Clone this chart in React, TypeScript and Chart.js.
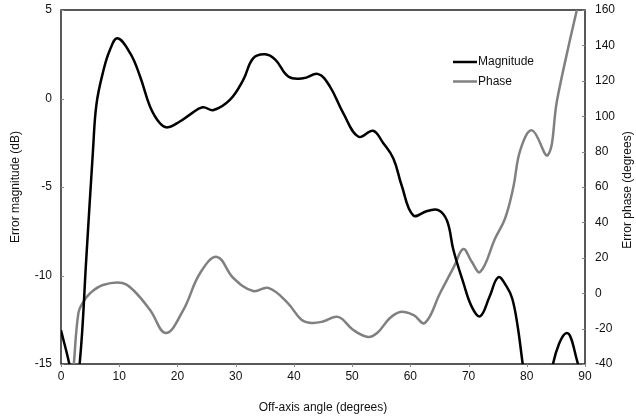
import React, { useEffect, useRef } from "react";
import { Chart, registerables } from "chart.js";

Chart.register(...registerables);

// Off-axis angle (degrees) for the magnitude trace
const magAngles = [0, 1.43, 2.2, 3.2, 4.35, 5.5, 6.1, 7.3, 8.4, 9.7, 11.9, 13.6, 15.3, 17.0, 18.3, 20.4, 22.2, 24.3, 26.2, 29.0, 31.3, 33.0, 35.05, 36.8, 39.1, 41.6, 44.2, 46.2, 48.5, 51.1, 53.6, 55.3, 57.1, 58.5, 60.5, 62.9, 64.8, 66.3, 67.4, 69.1, 70.6, 72.0, 73.6, 75.1, 76.5, 77.5, 78.4, 79.3, 81.0, 83.0, 84.5, 86.9, 88.8, 90];
// Error magnitude (dB)
const magnitude = [-13.1, -15, -16.5, -15, -9.0, -2.9, -0.3, 1.6, 2.74, 3.4, 2.55, 1.23, -0.46, -1.4, -1.63, -1.3, -0.9, -0.5, -0.65, -0.08, 1.05, 2.27, 2.5, 2.2, 1.23, 1.14, 1.38, 0.67, -0.84, -2.16, -1.82, -2.5, -3.4, -4.9, -6.6, -6.36, -6.3, -6.9, -8.56, -10.4, -11.8, -12.3, -11.2, -10.1, -10.6, -11.3, -12.8, -15, -19, -19, -15, -13.25, -15, -16.5];

// Off-axis angle (degrees) for the phase trace
const phaseAngles = [1.8, 2.2, 3.0, 3.8, 5.0, 7.2, 10.5, 12.4, 15.3, 18.0, 21.0, 23.9, 26.8, 29.6, 33.0, 35.6, 38.8, 41.3, 43.0, 45.0, 47.6, 50.2, 52.7, 54.3, 56.5, 58.3, 60.5, 62.5, 65.1, 67.5, 69.1, 70.5, 72.0, 74.6, 76.3, 77.7, 78.9, 80.9, 83.6, 85.2, 86.9, 88.6, 90];
// Error phase (degrees)
const phase = [-55, -40, -11, -5, 0, 4.6, 5.8, 1.8, -9.5, -22.5, -9.5, 11.4, 20.5, 8.6, 1.2, 3, -5, -15, -16.8, -16, -13.4, -20.8, -24.7, -22.5, -14, -10.6, -12.3, -16.8, 0, 15, 25, 18, 12, 31.2, 42.5, 60, 81, 92, 78, 109, 135.5, 160, 180];

const xTicks = { min: 0, max: 90, step: 10 };
const magTicks = { min: -15, max: 5, step: 5 };
const phaseTicks = { min: -40, max: 160, step: 20 };

const seriesNames = ["Magnitude", "Phase"];
const seriesColors = ["#000000", "#808080"];

const FONT = "'Liberation Sans', Arial, Helvetica, sans-serif";
const TEXT = "#111111";

const decor = {
  id: "decor",
  beforeDatasetsDraw(chart: any) {
    const { ctx, chartArea } = chart;
    ctx.save();
    ctx.strokeStyle = "#222";
    ctx.lineWidth = 1.5;
    ctx.strokeRect(chartArea.left, chartArea.top, chartArea.right - chartArea.left, chartArea.bottom - chartArea.top);
    ctx.strokeStyle = "#888";
    ctx.lineWidth = 1;
    const sx = chart.scales.x;
    const sy = chart.scales.y;
    const sy2 = chart.scales.y2;
    sy.ticks.forEach((t: any) => {
      const p = Math.round(sy.getPixelForValue(t.value)) + 0.5;
      ctx.beginPath();
      ctx.moveTo(chartArea.left, p);
      ctx.lineTo(chartArea.left + 3, p);
      ctx.stroke();
    });
    sy2.ticks.forEach((t: any) => {
      const p = Math.round(sy2.getPixelForValue(t.value)) + 0.5;
      ctx.beginPath();
      ctx.moveTo(chartArea.right - 3, p);
      ctx.lineTo(chartArea.right, p);
      ctx.stroke();
    });
    sx.ticks.forEach((t: any) => {
      const p = Math.round(sx.getPixelForValue(t.value)) + 0.5;
      ctx.beginPath();
      ctx.moveTo(p, chartArea.bottom);
      ctx.lineTo(p, chartArea.bottom + 3);
      ctx.stroke();
    });
    ctx.restore();
  },
  afterDraw(chart: any) {
    const { ctx, chartArea } = chart;
    ctx.save();
    // legend
    const lx = chartArea.right - 132;
    const ly = chartArea.top + 52;
    seriesNames.forEach((name, i) => {
      const y = ly + i * 19.5;
      ctx.strokeStyle = seriesColors[i];
      ctx.lineWidth = 2.5;
      ctx.beginPath();
      ctx.moveTo(lx, y);
      ctx.lineTo(lx + 24, y);
      ctx.stroke();
      ctx.fillStyle = TEXT;
      ctx.font = `12px ${FONT}`;
      ctx.textAlign = "left";
      ctx.textBaseline = "middle";
      ctx.fillText(name, lx + 25, y);
    });
    // right axis title (reads bottom-to-top)
    ctx.translate(chartArea.right + 43, (chartArea.top + chartArea.bottom) / 2 + 3);
    ctx.rotate(-Math.PI / 2);
    ctx.textAlign = "center";
    ctx.textBaseline = "middle";
    ctx.font = `12px ${FONT}`;
    ctx.fillStyle = TEXT;
    ctx.fillText("Error phase (degrees)", 0, 0);
    ctx.restore();
  },
};

export default function App() {
  const ref = useRef<HTMLCanvasElement | null>(null);
  useEffect(() => {
    document.body.style.margin = "0";
    const canvas = ref.current;
    if (!canvas) return;
    const chart = new Chart(canvas, {
      type: "line",
      data: {
        datasets: [
          {
            label: seriesNames[0],
            data: magAngles.map((x, i) => ({ x, y: magnitude[i] })),
            borderColor: seriesColors[0],
            borderWidth: 2.5,
            pointRadius: 0,
            tension: 0.4,
            yAxisID: "y",
            fill: false,
          },
          {
            label: seriesNames[1],
            data: phaseAngles.map((x, i) => ({ x, y: phase[i] })),
            borderColor: seriesColors[1],
            borderWidth: 2.5,
            pointRadius: 0,
            tension: 0.4,
            yAxisID: "y2",
            fill: false,
          },
        ],
      },
      options: {
        responsive: false,
        animation: false,
        events: [],
        layout: { padding: { top: 10, left: 0, right: 0, bottom: 0 } },
        plugins: { legend: { display: false }, tooltip: { enabled: false } },
        scales: {
          x: {
            type: "linear",
            min: xTicks.min,
            max: xTicks.max,
            ticks: { stepSize: xTicks.step, color: TEXT, font: { family: FONT, size: 12 }, padding: 5, maxRotation: 0 },
            grid: { display: false, drawTicks: false },
            border: { display: false },
            title: { display: true, text: "Off-axis angle (degrees)", color: TEXT, font: { family: FONT, size: 12 }, padding: { top: 0, bottom: 2 } },
            afterFit: (s: any) => { s.height = 53; s.paddingLeft = 0; s.paddingRight = 0; },
          },
          y: {
            type: "linear",
            position: "left",
            min: magTicks.min,
            max: magTicks.max,
            ticks: { stepSize: magTicks.step, color: TEXT, font: { family: FONT, size: 12 }, padding: 9 },
            grid: { display: false, drawTicks: false },
            border: { display: false },
            title: { display: true, text: "Error magnitude (dB)", color: TEXT, font: { family: FONT, size: 12 }, padding: { top: 8, bottom: 0 } },
            afterFit: (s: any) => { s.width = 61; s.paddingTop = 0; s.paddingBottom = 0; },
          },
          y2: {
            type: "linear",
            position: "right",
            min: phaseTicks.min,
            max: phaseTicks.max,
            ticks: { stepSize: phaseTicks.step, color: TEXT, font: { family: FONT, size: 12 }, padding: 10 },
            grid: { display: false, drawTicks: false },
            border: { display: false },
            afterFit: (s: any) => { s.width = 51; s.paddingTop = 0; s.paddingBottom = 0; },
          },
        },
      },
      plugins: [decor],
    } as any);
    return () => chart.destroy();
  }, []);
  return <canvas ref={ref} width={636} height={417} style={{ display: "block", width: 636, height: 417 }} />;
}
